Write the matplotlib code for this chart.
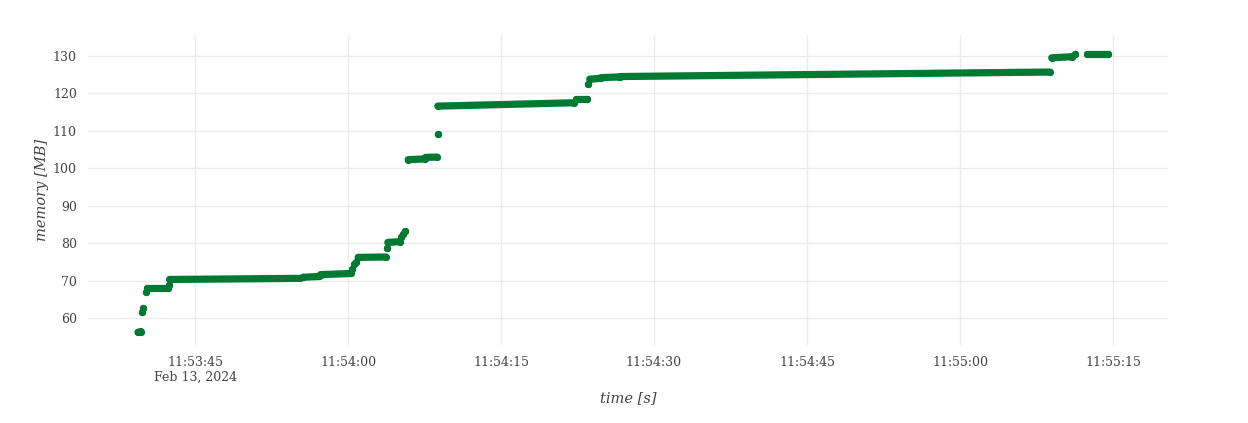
import pandas as pd
import matplotlib
matplotlib.use("Agg")
import matplotlib.pyplot as plt

# memory samples (start, end, mem at start, mem at end)
day = "2024-02-13 "
seg_start = ["11:53:39.4", "11:53:39.8", "11:53:39.9", "11:53:40.2", "11:53:40.3", "11:53:42.4",
             "11:53:42.5", "11:53:55.6", "11:53:57.3", "11:54:00.4", "11:54:00.6", "11:54:00.8",
             "11:54:01.0", "11:54:03.8", "11:54:03.9", "11:54:05.2", "11:54:05.4", "11:54:05.6",
             "11:54:05.9", "11:54:07.6", "11:54:08.8", "11:54:08.8", "11:54:22.4", "11:54:23.5",
             "11:54:23.7", "11:54:24.8", "11:54:26.7", "11:55:09.0", "11:55:11.3", "11:55:12.5"]
seg_end = ["11:53:39.7", "11:53:39.8", "11:53:39.9", "11:53:40.2", "11:53:42.3", "11:53:42.4",
           "11:53:55.3", "11:53:57.2", "11:54:00.3", "11:54:00.4", "11:54:00.6", "11:54:00.8",
           "11:54:03.7", "11:54:03.8", "11:54:05.1", "11:54:05.2", "11:54:05.4", "11:54:05.6",
           "11:54:07.5", "11:54:08.7", "11:54:08.8", "11:54:22.2", "11:54:23.4", "11:54:23.5",
           "11:54:24.7", "11:54:26.6", "11:55:08.8", "11:55:11.0", "11:55:11.3", "11:55:14.5"]
mem_start = [56.2, 61.6, 62.7, 67.0, 68.0, 68.8, 70.3, 70.9, 71.6, 73.2, 74.3, 75.0, 76.2, 78.8,
             80.2, 81.7, 82.5, 83.2, 102.3, 102.9, 109.1, 116.6, 118.6, 122.5, 123.8, 124.2,
             124.5, 129.5, 130.6, 130.6]
mem_end = [56.4, 61.6, 62.7, 67.0, 68.0, 68.8, 70.6, 71.1, 71.9, 73.2, 74.3, 75.0, 76.3, 78.8,
           80.4, 81.7, 82.5, 83.2, 102.5, 103.0, 109.1, 117.5, 118.6, 122.5, 124.0, 124.4,
           125.7, 129.8, 130.6, 130.6]

tick_labels = ["11:53:45", "11:54:00", "11:54:15", "11:54:30", "11:54:45", "11:55:00", "11:55:15"]
y_ticks = [60, 70, 80, 90, 100, 110, 120, 130]

green = "#007a33"
plt.rcParams["font.family"] = ["DejaVu Serif"]

fig = plt.figure(figsize=(12.48, 4.23), dpi=100)
ax = fig.add_axes([0.0705, 0.1844, 0.8654, 0.7329])

for s, e, m0, m1 in zip(seg_start, seg_end, mem_start, mem_end):
    t = pd.to_datetime([day + s, day + e])
    ax.plot(t, [m0, m1], color=green, lw=5.2, solid_capstyle="round",
            marker="o", ms=5.2, mew=0)

ax.set_xlim(pd.Timestamp(day + "11:53:34.5"), pd.Timestamp(day + "11:55:20.4"))
ax.set_ylim(52.8, 135.6)

ticks = pd.to_datetime([day + t for t in tick_labels])
ax.set_xticks(ticks)
ax.set_xticklabels([tick_labels[0] + "\nFeb 13, 2024"] + tick_labels[1:])
ax.set_yticks(y_ticks)

ax.grid(True, color="#ebebeb", lw=1)
ax.set_axisbelow(True)
for sp in ax.spines.values():
    sp.set_visible(False)
ax.tick_params(length=0, labelsize=9, colors="#444444", pad=8)

ax.set_xlabel("time [s]", fontsize=10.5, style="italic", color="#444444", labelpad=5)
ax.set_ylabel("memory [MB]", fontsize=10.5, style="italic", color="#444444", labelpad=3)

fig.savefig("out.png", dpi=100)
